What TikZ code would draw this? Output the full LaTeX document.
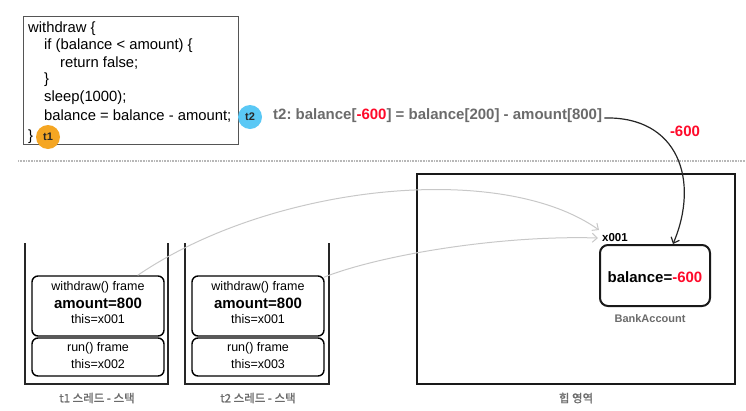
\documentclass[tikz,border=0pt]{standalone}
\usepackage{fontspec}
\setmainfont{Liberation Sans}
\newfontfamily\kr[FakeBold=1.2]{Noto Sans CJK KR}
\usetikzlibrary{arrows.meta}
\definecolor{tblue}{HTML}{5AC8F5}
\definecolor{torange}{HTML}{F5A623}
\definecolor{nred}{HTML}{FF0A2A}
\definecolor{tgrey}{HTML}{6B6B6B}
\definecolor{agrey}{HTML}{C8C8C8}
\definecolor{boxgrey}{HTML}{555555}
\begin{document}
\frenchspacing
\begin{tikzpicture}[x=1pt,y=-1pt,
  code/.style={anchor=west, inner sep=0, font=\fontsize{14.8}{17}\selectfont},
  badge/.style={circle, minimum size=24pt, inner sep=0, text=black!85, font=\bfseries\fontsize{11}{13}\selectfont},
  frame/.style={draw, rounded corners=6pt, line width=1.4pt, inner sep=0, minimum width=132pt},
  ftext/.style={inner sep=0, font=\fontsize{12.5}{14}\selectfont},
  fbig/.style={inner sep=0, font=\bfseries\fontsize{15}{17}\selectfont},
  caption/.style={inner sep=0, text=tgrey, font=\kr\fontsize{11.5}{13}\selectfont},
  wall/.style={line width=1.4pt, black!85},
  garrow/.style={agrey, line width=1pt, -{Straight Barb[length=5pt,width=9pt]}},
  barrow/.style={black!85, line width=1.2pt, -{Straight Barb[length=5pt,width=9pt]}}
]
\useasboundingbox (0,0) rectangle (746,410);

% code box
\node[draw=boxgrey, line width=1pt, minimum width=215pt, minimum height=128pt, anchor=north west, inner sep=0] (codebox) at (23,16) {};
\node[code] (c1) at (28,29) {withdraw \{};
\node[code] (c2) at (44,46) {if (balance < amount) \{};
\node[code] (c3) at (60,63) {return false;};
\node[code] (c4) at (44,80) {\}};
\node[code] (c5) at (44,98) {sleep(1000);};
\node[code] (c6) at (44,116) {balance = balance - amount;};
\node[code] (c7) at (28,137) {\}};
\node[badge, fill=tblue] (b2) at (250,117) {t2};
\node[badge, fill=torange] (b1) at (48,137) {t1};

\node[anchor=west, inner sep=0, text=tgrey, font=\bfseries\fontsize{15}{17}\selectfont] (t2text) at (273,116)
  {t2: balance[\textcolor{nred}{-600}] = balance[200] - amount[800]};
\node[inner sep=0, text=nred, font=\bfseries\fontsize{15}{17}\selectfont] (neg) at (685,131) {-600};

% separator
\draw[black!28, line width=1.2pt, dash pattern=on 1pt off 0.6pt] (18,161) -- (746,161);

% stacks
\draw[wall] (25,243) -- (25,384) -- (168,384) -- (168,243);
\draw[wall] (185,243) -- (185,384) -- (329,384) -- (329,243);

\node[frame, minimum height=60pt] (f1w) at (98,306) {};
\node[frame, minimum height=38pt] (f1r) at (98,357) {};
\node[frame, minimum height=60pt] (f2w) at (258,306) {};
\node[frame, minimum height=38pt] (f2r) at (258,357) {};

\node[ftext] (f1a) at (98,287) {withdraw() frame};
\node[fbig]  (f1b) at (98,303) {amount=800};
\node[ftext] (f1c) at (98,319) {this=x001};
\node[ftext] (f1d) at (98,348) {run() frame};
\node[ftext] (f1e) at (98,364) {this=x002};

\node[ftext] (f2a) at (258,287) {withdraw() frame};
\node[fbig]  (f2b) at (258,303) {amount=800};
\node[ftext] (f2c) at (258,319) {this=x001};
\node[ftext] (f2d) at (258,348) {run() frame};
\node[ftext] (f2e) at (258,364) {this=x003};

\node[caption] (cap1) at (97,398) {t1 스레드 - 스택};
\node[caption] (cap2) at (258,398) {t2 스레드 - 스택};

% heap
\node[draw, line width=2pt, black!90, minimum width=318pt, minimum height=210pt, anchor=north west, inner sep=0] (heap) at (416,173) {};
\node[caption] (cap3) at (576,398) {힙 영역};
\node[draw, line width=2pt, black!90, rounded corners=8pt, minimum width=110pt, minimum height=61pt, inner sep=0] (bal) at (655,275.5) {};
\node[inner sep=0, font=\bfseries\fontsize{15}{17}\selectfont] (baltext) at (655,277) {balance=\textcolor{nred}{-600}};
\node[inner sep=0, text=tgrey, font=\bfseries\fontsize{11}{13}\selectfont] (bank) at (650,319) {BankAccount};
\node[anchor=west, inner sep=0, font=\bfseries\fontsize{11.5}{13}\selectfont] (x001) at (602,238) {x001};

% arrows
\draw[garrow] ([xshift=-27pt]f1w.north east) .. controls (270,185) and (500,160) .. ([shift={(-3pt,8pt)}]x001.west);
\draw[garrow] ([shift={(-1pt,-2pt)}]f2w.north east) .. controls (380,255) and (500,235) .. ([xshift=-4pt]x001.west);
\draw[barrow] ([xshift=2pt,yshift=-2pt]t2text.east) .. controls (678,116) and (700,180) .. ([xshift=18pt]bal.north);
\end{tikzpicture}
\end{document}
